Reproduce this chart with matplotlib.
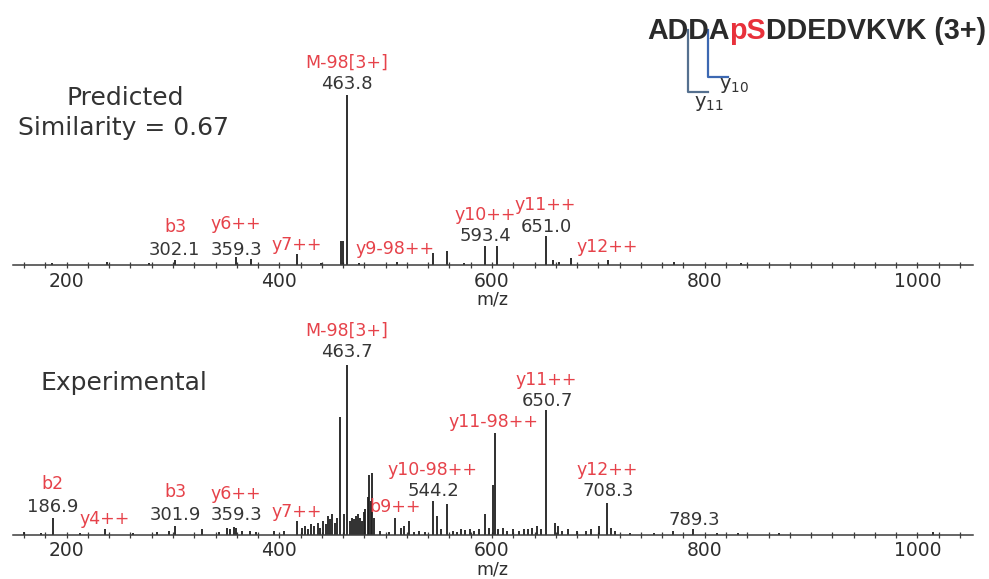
import matplotlib
matplotlib.use("Agg")
import matplotlib.pyplot as plt
from matplotlib.ticker import MultipleLocator, FixedLocator
from matplotlib.lines import Line2D

# ---------------- data ----------------
pred_mz = [186, 238, 277, 302.1, 359.3, 373, 416.9, 439, 457.6, 460.0, 463.8, 474.6,
           511, 544.8, 557.8, 573.5, 593.4, 604.3, 651.0, 657, 663, 674, 709.5, 771, 834]
pred_int = [1, 1.5, 1, 3, 5, 3.5, 6.5, 1, 14, 14, 100, 1,
            1.5, 7, 8, 1, 11, 11, 17, 3, 2, 4, 3, 1.5, 1]

exp_mz = [159.7, 176, 186.9, 213, 236.5, 262, 285, 296, 301.9, 327.5, 343, 351, 354, 357,
          359.3, 365, 372, 378, 395, 404, 416.9,
          421, 424, 427, 430, 433, 436, 438.5, 441, 443.5, 446, 448, 450, 452, 454.5,
          457.5, 460.5, 463.7, 466, 468, 470, 472, 474, 476, 478, 479.6, 481, 483,
          484.2, 486, 487.4, 489,
          495, 503, 509.2, 514, 517, 521.6, 527, 531, 537, 544.2, 548.6, 552, 557.6,
          563, 567, 571, 575, 579, 583, 588, 593.6, 597, 601.0, 602.9, 606, 610, 614,
          620, 625, 630, 634, 638, 642, 646, 650.7, 659, 662, 666, 671, 680, 688, 693,
          701, 708.3, 712, 716, 730, 752, 770, 789.3, 812, 831, 870, 1015]
exp_int = [1.5, 1, 10, 1, 3.5, 1, 1.5, 2, 5, 3, 1.5, 4, 3.5, 4.5,
           4, 2, 2, 1.5, 2, 2, 8,
           4, 5, 3, 6, 5, 7, 4, 8, 6, 11, 9, 12, 7, 10,
           69, 12, 100, 8, 10, 9, 11, 12, 10, 8, 13, 15, 22,
           35, 20, 36, 10,
           2, 1.5, 10, 4, 5, 8, 1.5, 2, 1.5, 20, 11, 3, 18,
           2, 1.5, 3, 2.5, 3, 2, 3, 12, 4, 29, 60, 3, 4, 2,
           3, 2, 3, 3.5, 4, 5, 3, 73, 6.5, 5, 2, 3, 2, 2, 3,
           5, 18.6, 4, 2, 1, 1, 2, 3, 1, 1, 0.8, 1.5]

top_ion_labels = ["M-98[3+]", "b3", "y6++", "y7++", "y9-98++", "y10++", "y11++", "y12++"]
top_value_labels = ["463.8", "302.1", "359.3", "593.4", "651.0"]
bot_ion_labels = ["M-98[3+]", "b2", "y4++", "b3", "y6++", "y7++", "b9++", "y10-98++",
                  "y11-98++", "y11++", "y12++"]
bot_value_labels = ["463.7", "186.9", "301.9", "359.3", "544.2", "650.7", "708.3", "789.3"]

xticks = [200, 400, 600, 800, 1000]

# ---------------- layout (label anchor positions, data coords) ----------------
top_ion_pos = [(463.7, 118.8), (301.9, 22.4), (359.3, 24.1), (416.7, 11.6), (508.8, 9.2),
               (593.5, 29.4), (649.9, 35.3), (708.2, 10.4)]
top_val_pos = [(463.7, 106.6), (301.0, 8.8), (360.0, 8.8), (593.5, 17.1), (650.8, 22.1)]
bot_ion_pos = [(463.7, 119.7), (186.3, 29.7), (236.1, 9.2), (301.9, 25.0), (359.3, 23.6),
               (416.7, 13.0), (508.8, 16.4), (543.6, 37.8), (601.0, 66.3), (650.8, 90.7),
               (708.2, 37.8)]
bot_val_pos = [(463.7, 107.5), (186.7, 16.2), (301.9, 11.5), (360.0, 11.5), (544.5, 25.6),
               (651.7, 78.7), (709.6, 25.6), (790.5, 8.5)]

RED = "#e6424a"
NUM = "#363636"
PEAK = "#1f1f1f"
AX = "#3c3c3c"

W, H = 989, 579
fig = plt.figure(figsize=(W / 100, H / 100), dpi=100)

left = 12.7 / W
width = 960 / W
height = 187 / H
ax_top = fig.add_axes([left, (H - 265) / H, width, height])
ax_bot = fig.add_axes([left, (H - 534.5) / H, width, height])

for ax, mz, inten in [(ax_top, pred_mz, pred_int), (ax_bot, exp_mz, exp_int)]:
    ax.vlines(mz, 0, inten, color=PEAK, lw=1.3)
    ax.set_xlim(149.3, 1052)
    ax.set_ylim(0, 110)
    for s in ["left", "right", "top"]:
        ax.spines[s].set_visible(False)
    ax.spines["bottom"].set_color(AX)
    ax.spines["bottom"].set_linewidth(1.1)
    ax.set_yticks([])
    ax.xaxis.set_major_locator(FixedLocator(xticks))
    ax.xaxis.set_minor_locator(MultipleLocator(20))
    ax.tick_params(axis="x", which="both", direction="inout", length=4, width=0.9,
                   color=AX, labelsize=13.5, labelcolor="#2e2e2e", pad=3)
    ax.set_xlabel("m/z", fontsize=12.5, color="#2e2e2e", labelpad=0)
    ax.patch.set_alpha(0)

for ax, labs, pos in [(ax_top, top_ion_labels, top_ion_pos), (ax_bot, bot_ion_labels, bot_ion_pos)]:
    for t, (x, y) in zip(labs, pos):
        ax.text(x, y, t, color=RED, fontsize=12.5, ha="center", va="center")
for ax, labs, pos in [(ax_top, top_value_labels, top_val_pos), (ax_bot, bot_value_labels, bot_val_pos)]:
    for t, (x, y) in zip(labs, pos):
        ax.text(x, y, t, color=NUM, fontsize=13, ha="center", va="center")

# panel titles
fig.text(125 / W, 1 - 98 / H, "Predicted", fontsize=18, color="#333333", ha="center", va="center")
fig.text(123 / W, 1 - 128 / H, "Similarity = 0.67", fontsize=18, color="#333333", ha="center", va="center")
fig.text(124 / W, 1 - 383 / H, "Experimental", fontsize=18, color="#333333", ha="center", va="center")

# fragment brackets (drawn first, behind the sequence)
def fig_line(xs, ys, color):
    fig.add_artist(Line2D([x / W for x in xs], [1 - y / H for y in ys], color=color, lw=1.6,
                          transform=fig.transFigure, zorder=1))

fig_line([688.3, 688.3, 708.3], [30, 92, 92], "#55708f")
fig_line([707.5, 707.5, 728.3], [30, 77, 77], "#3c68b2")

# peptide sequence
renderer = fig.canvas.get_renderer()
x_px = 647
y_base = 1 - 39 / H
parts = [("ADDA", "#2a2a2a"), ("pS", "#e8313b"), ("DDEDVKVK (3+)", "#2a2a2a")]
for s, c in parts:
    t = fig.text(x_px / W, y_base, s, fontsize=20.6, fontweight="bold", color=c,
                 family="Liberation Sans", ha="left", va="baseline", zorder=3)
    bb = t.get_window_extent(renderer=renderer)
    x_px += bb.width

fig.text(719 / W, 1 - 89 / H, r"$\mathregular{y_{10}}$", fontsize=14, color="#333333",
         ha="left", va="baseline")
fig.text(694 / W, 1 - 107 / H, r"$\mathregular{y_{11}}$", fontsize=14, color="#333333",
         ha="left", va="baseline")

fig.savefig("out.png", dpi=100)
